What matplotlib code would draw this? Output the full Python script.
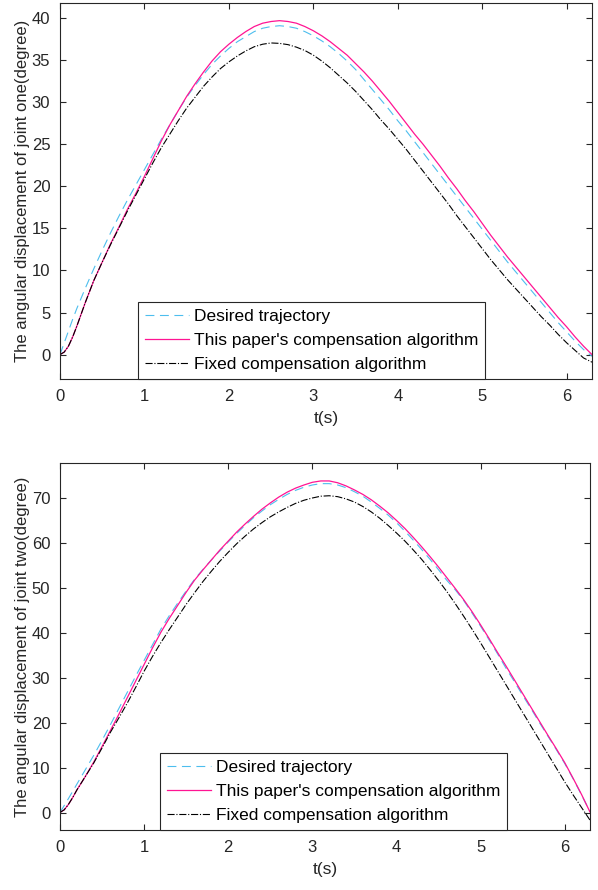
import matplotlib
matplotlib.use('Agg')
import matplotlib.pyplot as plt
import numpy as np

plt.rcParams['font.family'] = ['Liberation Sans', 'DejaVu Sans']

# time samples (s)
t = [0, 0.05, 0.1, 0.15, 0.2, 0.3, 0.4, 0.5, 0.6, 0.7, 0.8, 0.9, 1.0, 1.1, 1.2, 1.3, 1.4, 1.5,
     1.6, 1.7, 1.8, 1.9, 2.0, 2.1, 2.2, 2.3, 2.4, 2.5, 2.6, 2.7, 2.8, 2.9, 3.0, 3.1, 3.2, 3.3,
     3.4, 3.5, 3.6, 3.7, 3.8, 3.9, 4.0, 4.1, 4.2, 4.3, 4.4, 4.5, 4.6, 4.7, 4.8, 4.9, 5.0, 5.1,
     5.2, 5.3, 5.4, 5.5, 5.6, 5.7, 5.8, 5.9, 6.0, 6.1, 6.2, 6.3]

# joint one (degree)
j1_desired = [0, 1.4, 2.8, 4.2, 5.5, 7.9, 10.2, 12.4, 14.5, 16.5, 18.4, 20.2, 22.0, 23.8, 25.6, 27.3, 29.0, 30.6,
              32.0, 33.3, 34.5, 35.5, 36.4, 37.2, 37.8, 38.4, 38.8, 39.0, 39.1, 39.0, 38.8, 38.4, 37.9, 37.3, 36.6, 35.8,
              34.9, 33.9, 32.7, 31.5, 30.3, 29.1, 27.8, 26.6, 25.3, 24.0, 22.7, 21.4, 20.1, 18.8, 17.5, 16.2, 14.9, 13.6,
              12.3, 11.0, 9.8, 8.6, 7.4, 6.2, 5.0, 3.8, 2.7, 1.6, 0.6, -0.2]
j1_paper = [0, 0.3, 1.0, 2.1, 3.4, 6.2, 8.8, 11.0, 13.2, 15.2, 17.3, 19.2, 21.2, 23.3, 25.4, 27.3, 29.0, 30.7,
            32.2, 33.6, 34.9, 36.0, 36.9, 37.7, 38.4, 39.0, 39.4, 39.6, 39.7, 39.6, 39.4, 39.0, 38.5, 37.9, 37.2, 36.4,
            35.6, 34.6, 33.6, 32.5, 31.3, 30.1, 28.8, 27.5, 26.2, 25.0, 23.7, 22.4, 21.0, 19.7, 18.3, 17.0, 15.6, 14.2,
            12.9, 11.6, 10.4, 9.2, 8.0, 6.8, 5.6, 4.4, 3.3, 2.1, 1.0, 0.0]
j1_fixed = [0, 0.3, 1.0, 2.1, 3.4, 6.2, 8.8, 11.0, 13.1, 15.1, 17.1, 19.0, 20.9, 22.8, 24.6, 26.2, 27.8, 29.3,
            30.6, 31.9, 33.0, 34.0, 34.8, 35.5, 36.1, 36.6, 36.9, 37.05, 37.0, 36.85, 36.55, 36.15, 35.6, 34.9, 34.1, 33.2,
            32.3, 31.3, 30.2, 29.1, 27.9, 26.8, 25.6, 24.4, 23.1, 21.8, 20.5, 19.2, 17.9, 16.5, 15.2, 13.9, 12.6, 11.3,
            10.1, 8.9, 7.8, 6.7, 5.6, 4.5, 3.5, 2.4, 1.4, 0.5, -0.4, -0.9]

# joint two (degree)
j2_desired = [0, 1.55, 3.1, 4.7, 6.3, 9.5, 12.7, 16.1, 19.6, 23.2, 26.8, 30.4, 33.9, 37.4, 40.9, 43.9, 46.7, 49.4,
              52.0, 54.2, 56.3, 58.3, 60.3, 62.2, 64.0, 65.7, 67.2, 68.6, 69.8, 70.9, 71.8, 72.5, 73.0, 73.3, 73.3, 73.0,
              72.4, 71.5, 70.5, 69.2, 67.8, 66.3, 64.6, 62.7, 60.7, 58.6, 56.4, 54.1, 51.7, 49.6, 47.2, 44.4, 41.5, 38.5,
              35.4, 32.2, 29.2, 26.1, 23.1, 20.0, 17.0, 14.0, 10.9, 7.5, 3.9, 0.2]
j2_paper = [0, 0.6, 1.8, 3.3, 5.0, 8.0, 11.2, 14.7, 18.3, 21.9, 25.6, 29.3, 33.0, 36.7, 40.2, 43.3, 46.2, 49.1,
            51.8, 54.1, 56.3, 58.5, 60.5, 62.5, 64.3, 66.0, 67.6, 69.0, 70.3, 71.4, 72.3, 73.0, 73.6, 73.9, 73.9, 73.5,
            72.8, 71.9, 70.9, 69.7, 68.3, 66.8, 65.1, 63.3, 61.3, 59.2, 57.0, 54.7, 52.3, 49.9, 47.4, 44.7, 41.8, 38.8,
            35.7, 32.7, 29.6, 26.5, 23.4, 20.3, 17.2, 14.2, 11.1, 7.6, 4.0, 0.1]
j2_fixed = [0, 0.6, 1.8, 3.3, 5.0, 8.0, 11.0, 14.4, 17.9, 21.1, 24.4, 27.9, 31.5, 34.8, 37.9, 40.8, 43.6, 46.4,
            49.0, 51.5, 53.8, 56.0, 58.0, 59.9, 61.6, 63.2, 64.6, 65.9, 67.0, 68.0, 68.9, 69.6, 70.1, 70.5, 70.6, 70.4,
            69.9, 69.2, 68.2, 67.0, 65.6, 64.0, 62.3, 60.5, 58.5, 56.4, 54.1, 51.7, 49.2, 46.5, 43.7, 40.8, 37.8, 34.7,
            31.6, 28.5, 25.4, 22.3, 19.2, 16.1, 13.0, 9.9, 6.8, 3.9, 1.1, -1.7]

labels = ['Desired trajectory', "This paper's compensation algorithm", 'Fixed compensation algorithm']
ylabels = ['The angular displacement of joint one(degree)', 'The angular displacement of joint two(degree)']

blue = '#4dbeee'
pink = '#ff1493'
dark = '#262626'

fig = plt.figure(figsize=(5.98, 8.9), dpi=100)
ax1 = fig.add_axes([60 / 598, 1 - 379 / 890, 532 / 598, 376 / 890])
ax2 = fig.add_axes([60 / 598, 1 - 830 / 890, 530 / 598, 367 / 890])

panels = [
    (ax1, j1_desired, j1_paper, j1_fixed, (-2.9, 41.8), np.arange(0, 41, 5), 0.147, ylabels[0]),
    (ax2, j2_desired, j2_paper, j2_fixed, (-3.9, 77.9), np.arange(0, 71, 10), 0.189, ylabels[1]),
]

for ax, des, pap, fix, ylim, yt, lx, yl in panels:
    ax.plot(t, des, color=blue, lw=0.8, dashes=(8, 5), label=labels[0])
    ax.plot(t, pap, color=pink, lw=0.9, label=labels[1])
    ax.plot(t, fix, color='black', lw=0.8, linestyle='-.', label=labels[2])
    ax.set_xlim(0, 6.3)
    ax.set_ylim(*ylim)
    ax.set_xticks(range(0, 7))
    ax.set_yticks(yt)
    ax.tick_params(direction='in', top=True, right=True, length=4, width=0.8,
                   colors=dark, labelsize=12, pad=7)
    for sp in ax.spines.values():
        sp.set_color(dark)
        sp.set_linewidth(0.8)
    ax.set_xlabel('t(s)', fontsize=12.5, color=dark, labelpad=5)
    ax.set_ylabel(yl, fontsize=12, color=dark, labelpad=1)
    leg = ax.legend(loc='lower left', bbox_to_anchor=(lx, 0.0), fontsize=12.5,
                    fancybox=False, framealpha=1, edgecolor=dark, borderaxespad=0,
                    handlelength=2.5, handletextpad=0.3, labelspacing=0.5,
                    borderpad=0.4)
    leg.get_frame().set_linewidth(0.8)

fig.savefig('out.png', dpi=100)
